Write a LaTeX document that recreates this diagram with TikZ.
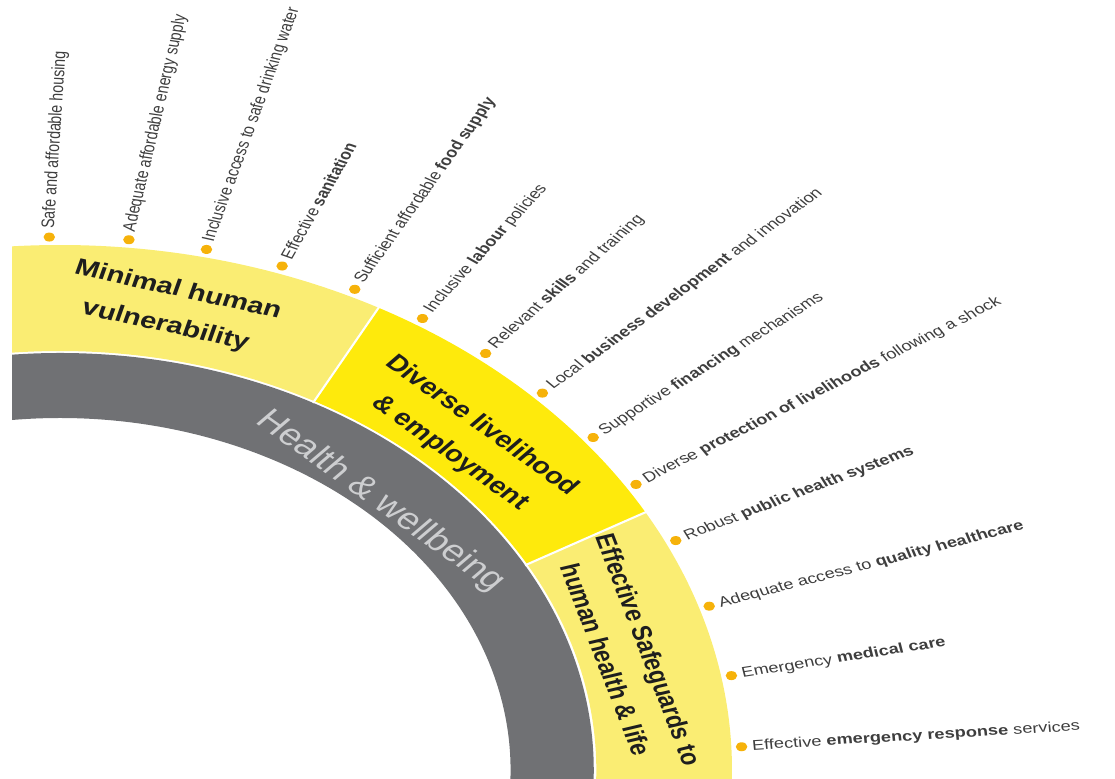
\documentclass[tikz,border=0pt]{standalone}
\usepackage{fontspec}
\setmainfont{Liberation Sans}
\definecolor{paleyellow}{RGB}{250,237,115}
\definecolor{brightyellow}{RGB}{254,234,12}
\definecolor{bandgray}{RGB}{112,113,116}
\definecolor{bandtext}{RGB}{205,206,208}
\definecolor{dotorange}{RGB}{246,178,10}
\definecolor{itemgray}{RGB}{62,62,62}
\definecolor{headtext}{RGB}{30,30,30}

\begin{document}
\begin{tikzpicture}[
	  x=0.02cm, y=0.02cm,
	  bullet/.style={fill=dotorange},
	  itm/.style={anchor=west, inner sep=0pt, text=itemgray,
	    font=\fontsize{8.1}{10}\selectfont, transform shape},
	  head/.style={inner sep=0pt, text=headtext, align=center,
	    font=\bfseries\fontsize{13}{21}\selectfont, transform shape},
	]
	\useasboundingbox (0,0) rectangle (1115,778);

	\begin{scope}[shift={(60,8)}, xscale=1.28]
	% bands, cut at the left edge
	\begin{scope}
	\clip (-37.5,-8) rectangle (830,780);
	\fill [bandgray] (-10:352) arc [start angle=-10, end angle=100, radius=352]
	  -- (100:417) arc [start angle=100, end angle=-10, radius=417] -- cycle;
	\fill [paleyellow] (61.7:419) arc [start angle=61.7, end angle=100, radius=419]
	  -- (100:525) arc [start angle=100, end angle=61.7, radius=525] -- cycle;
	\fill [brightyellow] (29.4:419) arc [start angle=29.4, end angle=61.7, radius=419]
	  -- (61.7:525) arc [start angle=61.7, end angle=29.4, radius=525] -- cycle;
	\fill [paleyellow] (-10:419) arc [start angle=-10, end angle=29.4, radius=419]
	  -- (29.4:525) arc [start angle=29.4, end angle=-10, radius=525] -- cycle;
	\draw [white, line width=1.2pt] (61.7:417) -- (61.7:527);
	\draw [white, line width=1.2pt] (29.4:417) -- (29.4:527);
	\end{scope}

	\node [head, rotate=-15.5] (minimal) at (79.3:470) {Minimal human\\vulnerability};
	\node [head, rotate=-42.3] (diverse) at (46.2:458) {Diverse livelihood\\\& employment};
	\node [head, rotate=-73.2, font=\bfseries\fontsize{12.3}{20}\selectfont] (safeguards) at (14.6:458) {Effective Safeguards to\\human health \& life};
	\node [inner sep=0pt, text=bandtext, font=\fontsize{17.3}{20}\selectfont,
	  transform shape, rotate=-42.5] (health) at (47:367) {Health \& wellbeing};

	% items
	\path [bullet] (90.9:533) circle [radius=4.5];
	\node [itm, rotate=87] (housing) at (90.9:541) {Safe and affordable housing};
	\path [bullet] (84.2:533) circle [radius=4.5];
	\node [itm, rotate=79.5] (energy) at (84.2:541) {Adequate affordable energy supply};
	\path [bullet] (77.6:533) circle [radius=4.5];
	\node [itm, rotate=74] (water) at (77.6:541) {Inclusive access to safe drinking water};
	\path [bullet] (71:533) circle [radius=4.5];
	\node [itm, rotate=65.9] (sanitation) at (71:541) {Effective \textbf{sanitation}};
	\path [bullet] (64.4:533) circle [radius=4.5];
	\node [itm, rotate=60.5] (food) at (64.4:541) {Sufficient affordable \textbf{food supply}};
	\path [bullet] (57.9:533) circle [radius=4.5];
	\node [itm, rotate=54.3] (labour) at (57.9:541) {Inclusive \textbf{labour} policies};
	\path [bullet] (51.4:533) circle [radius=4.5];
	\node [itm, rotate=48.1] (skills) at (51.4:541) {Relevant \textbf{skills} and training};
	\path [bullet] (45:533) circle [radius=4.5];
	\node [itm, rotate=42.9] (business) at (45:541) {Local \textbf{business development} and innovation};
	\path [bullet] (38.6:533) circle [radius=4.5];
	\node [itm, rotate=38.4] (financing) at (38.6:541) {Supportive \textbf{financing} mechanisms};
	\path [bullet] (32.4:533) circle [radius=4.5];
	\node [itm, rotate=32.9] (protection) at (32.4:541) {Diverse \textbf{protection of livelihoods} following a shock};
	\path [bullet] (25.5:533) circle [radius=4.5];
	\node [itm, rotate=26] (publichealth) at (25.5:541) {Robust \textbf{public health systems}};
	\path [bullet] (17.9:533) circle [radius=4.5];
	\node [itm, rotate=18.2] (healthcare) at (17.9:541) {Adequate access to \textbf{quality healthcare}};
	\path [bullet] (10.2:533) circle [radius=4.5];
	\node [itm, rotate=11.3] (medical) at (10.2:541) {Emergency \textbf{medical care}};
	\path [bullet] (2.5:533) circle [radius=4.5];
	\node [itm, rotate=4.4] (emergency) at (2.5:541) {Effective \textbf{emergency response} services};
	\end{scope}
\end{tikzpicture}
\end{document}
